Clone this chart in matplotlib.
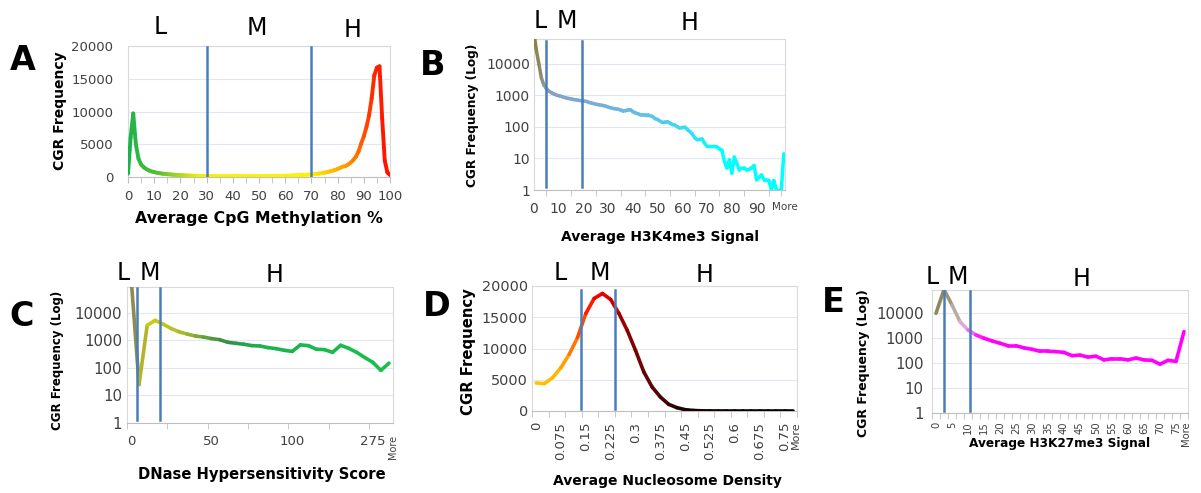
import numpy as np
import matplotlib
matplotlib.use('Agg')
import matplotlib.pyplot as plt
from matplotlib.collections import LineCollection

W, H = 1201, 493

# A: average CpG methylation %, bins 0..100
a_x = list(range(101))
a_vals = [500, 6000, 9700, 5000, 2800, 1900, 1500, 1200, 1000, 850,
          750, 650, 580, 520, 470, 430, 400, 360, 330, 300,
          280, 260, 240, 220, 205, 190, 180, 170, 160, 150,
          145, 140, 135, 130, 128, 125, 122, 120, 118, 117,
          116, 115, 115, 115, 116, 117, 118, 120, 122, 125,
          128, 130, 135, 140, 145, 150, 155, 160, 170, 180,
          190, 200, 215, 230, 250, 270, 290, 310, 340, 370,
          400, 440, 490, 540, 600, 670, 750, 840, 950, 1080,
          1230, 1400, 1600, 1650, 1900, 2200, 2600, 3100, 3900, 5100,
          6200, 7600, 9400, 12000, 15500, 16700, 16900, 9000, 2500, 700,
          300]
a_cuts = [30, 70]

# B: average H3K4me3 signal, bins 0..100 + "More"
b_x = list(range(102))
b_vals = [90000, 25000, 9500, 3500, 2100, 1600, 1350, 1200, 1100, 1020,
          960, 920, 860, 820, 790, 760, 730, 710, 690, 670,
          660, 640, 600, 570, 545, 520, 500, 485, 470, 450,
          420, 400, 380, 370, 360, 340, 315, 325, 340, 345,
          300, 275, 260, 240, 235, 240, 240, 225, 210, 180,
          170, 150, 137, 140, 145, 130, 118, 113, 100, 91,
          95, 97, 82, 71, 60, 45, 39, 40, 41, 30,
          24, 24, 24, 24, 23, 20, 18, 8, 5, 9,
          3.4, 11, 7, 4.3, 5, 5, 4.3, 4.5, 5, 6,
          2.1, 2.5, 3, 2.1, 2.1, 2, 1, 2, 1, 1,
          1, 14]
b_cuts = [4.7, 19.4]

# C: DNase hypersensitivity score, category index
c_vals = [200000, 25, 3550, 5400, 3900, 2700, 2050, 1700, 1450, 1330,
          1170, 1070, 860, 790, 730, 650, 630, 550, 505, 440,
          400, 690, 650, 480, 465, 370, 670, 520, 370, 240,
          160, 82, 150]
c_labels = ['0', '50', '100', '275', 'More']
c_label_pos = [0, 10, 20, 30, 32.5]
c_cuts = [0.8, 3.6]

# D: average nucleosome density, category index (0.025 wide bins)
d_vals = [4490, 4380, 5340, 6950, 9080, 11750, 15600, 18000, 18800, 17850,
          15600, 12900, 9700, 6250, 3850, 2240, 1070, 530, 210, 80,
          30, 10, 5, 3, 2, 1, 1, 1, 0, 0, 0, 0]
d_labels = ['0', '0.075', '0.15', '0.225', '0.3', '0.375', '0.45', '0.525',
            '0.6', '0.675', '0.75', 'More']
d_label_pos = [0, 3, 6, 9, 12, 15, 18, 21, 24, 27, 30, 31.4]
d_cuts = [5.4, 9.5]

# E: average H3K27me3 signal, category index (2.5 wide bins)
e_vals = [10000, 90000, 21500, 4600, 2150, 1350, 1000, 780, 630, 500,
          500, 410, 360, 300, 300, 290, 270, 200, 210, 175,
          190, 135, 150, 150, 135, 160, 135, 130, 91, 130,
          117, 1850]
e_labels = [str(v) for v in range(0, 80, 5)] + ['More']
e_label_pos = list(range(0, 31, 2)) + [31.3]
e_cuts = [1.0, 4.2]

log_ticks = [1, 10, 100, 1000, 10000]
lin_ticks = [0, 5000, 10000, 15000, 20000]

CUT = '#4a7ebb'
TXT = '#404040'


def box(l, t, r, b):
    return [l / W, 1 - b / H, (r - l) / W, (b - t) / H]


def ftext(x, y, s, **kw):
    fig.text(x / W, 1 - y / H, s, ha='center', va='center', **kw)


def grad_line(ax, x, y, anchors, lw=2.6):
    x = np.asarray(x, float)
    y = np.asarray(y, float)
    pts = np.column_stack([x, y])
    segs = np.stack([pts[:-1], pts[1:]], axis=1)
    mids = (x[:-1] + x[1:]) / 2
    ax_ = [p[0] for p in anchors]
    cols = np.array([p[1] for p in anchors])
    rgb = np.column_stack([np.interp(mids, ax_, cols[:, i]) for i in range(3)])
    lc = LineCollection(segs, colors=rgb, linewidths=lw,
                        capstyle='round', joinstyle='round', zorder=3)
    ax.add_collection(lc)


def style(ax, ysize, ypad, xsize, xpad):
    for s in ax.spines.values():
        s.set_color('#d9d9d9')
        s.set_linewidth(0.8)
    ax.spines['bottom'].set_color('#bfbfbf')
    ax.grid(axis='y', color='#e2e8f0', lw=0.8)
    ax.set_axisbelow(True)
    ax.tick_params(axis='y', length=0, labelsize=ysize, labelcolor=TXT, pad=ypad)
    ax.tick_params(axis='x', which='both', length=4, color='#bfbfbf',
                   labelsize=xsize, labelcolor=TXT, pad=xpad)


fig = plt.figure(figsize=(W / 100, H / 100), dpi=100)

# ---------- A ----------
ax = fig.add_axes(box(128, 46, 390, 177))
grad_line(ax, a_x, a_vals, [(0, (0.1, 0.7, 0.3)), (12, (0.35, 0.75, 0.2)),
                            (28, (0.95, 0.95, 0.0)), (70, (1, 0.95, 0.0)),
                            (84, (1, 0.6, 0.0)), (94, (1, 0.15, 0.0)),
                            (100, (1, 0.05, 0.0))], lw=2.8)
for c in a_cuts:
    ax.axvline(c, ymin=0.005, ymax=0.995, color=CUT, lw=1.8, zorder=4)
ax.set_xlim(0, 100)
ax.set_ylim(0, 20000)
ax.set_yticks(lin_ticks)
ax.set_xticks(range(0, 101, 10))
ax.set_xticks(range(0, 101, 5), minor=True)
style(ax, 9.5, 10.5, 9.5, 5)
ftext(60, 111, 'CGR Frequency', rotation=90, fontsize=10, fontweight='bold')
ftext(259, 218, 'Average CpG Methylation %', fontsize=11.3, fontweight='bold')

# ---------- B ----------
ax = fig.add_axes(box(534, 39, 785, 190))
grad_line(ax, b_x, b_vals, [(0, (0.55, 0.5, 0.25)), (3, (0.55, 0.55, 0.45)),
                            (5, (0.55, 0.62, 0.72)), (15, (0.5, 0.65, 0.82)),
                            (40, (0.4, 0.73, 0.88)), (60, (0.25, 0.85, 0.95)),
                            (75, (0.0, 1.0, 1.0)), (101, (0.0, 1.0, 1.0))], lw=2.5)
for c in b_cuts:
    ax.axvline(c, ymin=0.02, ymax=0.99, color=CUT, lw=1.8, zorder=4)
ax.set_yscale('log')
ax.set_xlim(0, 101.5)
ax.set_ylim(1, 60000)
ax.set_yticks(log_ticks, [str(v) for v in log_ticks])
ax.minorticks_off()
ax.set_xticks(list(range(0, 91, 10)) + [101.5],
              [str(v) for v in range(0, 91, 10)] + ['More'])
ax.set_xticks(range(0, 101, 5), minor=True)
style(ax, 10, 3, 10, 5.5)
ax.tick_params(axis='x', which='major', length=0, pad=8.3)
ax.get_xticklabels()[-1].set_fontsize(7.5)
ftext(472, 115, 'CGR Frequency (Log)', rotation=90, fontsize=8.7, fontweight='bold')
ftext(660, 237, 'Average H3K4me3 Signal', fontsize=10, fontweight='bold')

# ---------- C ----------
ax = fig.add_axes(box(127, 287, 393, 423))
grad_line(ax, range(len(c_vals)), c_vals,
          [(0, (0.45, 0.45, 0.35)), (1, (0.65, 0.65, 0.25)), (2.5, (0.8, 0.8, 0.05)),
           (6, (0.7, 0.75, 0.15)), (10, (0.35, 0.6, 0.25)), (12, (0.2, 0.55, 0.3)),
           (16, (0.1, 0.7, 0.3)), (32, (0.1, 0.75, 0.3))], lw=2.6)
for c in c_cuts:
    ax.axvline(c, ymin=0.02, ymax=0.99, color=CUT, lw=1.8, zorder=4)
ax.set_yscale('log')
ax.set_xlim(-0.5, 32.5)
ax.set_ylim(1, 88000)
ax.set_yticks(log_ticks, [str(v) for v in log_ticks])
ax.minorticks_off()
ax.set_xticks(c_label_pos, c_labels)
ax.set_xticks(np.arange(-0.5, 32, 5), minor=True)
style(ax, 10.8, 3.6, 9.5, 6)
ax.tick_params(axis='x', which='major', length=0, pad=8.8)
lab = ax.get_xticklabels()[-1]
lab.set_rotation(90)
lab.set_fontsize(7)
ftext(58, 360, 'CGR Frequency (Log)', rotation=90, fontsize=8.5, fontweight='bold')
ftext(262, 475, 'DNase Hypersensitivity Score', fontsize=10.6, fontweight='bold')

# ---------- D ----------
ax = fig.add_axes(box(532, 286, 797, 411))
grad_line(ax, range(len(d_vals)), d_vals,
          [(0, (1, 0.78, 0.0)), (3, (1, 0.7, 0.0)), (5, (1, 0.4, 0.0)),
           (7, (1, 0.0, 0.0)), (9, (0.85, 0.0, 0.0)), (11, (0.55, 0.0, 0.0)),
           (14, (0.35, 0.02, 0.02)), (18, (0.1, 0.0, 0.0)), (31, (0, 0, 0))], lw=2.6)
for c in d_cuts:
    ax.axvline(c, ymin=0.02, ymax=0.97, color=CUT, lw=1.8, zorder=4)
ax.set_xlim(-0.5, 31.5)
ax.set_ylim(0, 20000)
ax.set_yticks(lin_ticks)
ax.set_xticks(d_label_pos, d_labels, rotation=90)
ax.set_xticks(np.arange(-0.5, 32, 2), minor=True)
style(ax, 10.4, 3, 9.5, 5)
ax.tick_params(axis='x', which='major', length=0, pad=7.8)
ax.get_xticklabels()[-1].set_fontsize(8)
ftext(468, 352, 'CGR Frequency', rotation=90, fontsize=10.7, fontweight='bold')
ftext(667, 481, 'Average Nucleosome Density', fontsize=10, fontweight='bold')

# ---------- E ----------
ax = fig.add_axes(box(932, 290, 1188, 413))
grad_line(ax, range(len(e_vals)), e_vals,
          [(0, (0.55, 0.52, 0.33)), (1, (0.58, 0.55, 0.38)), (2, (0.66, 0.62, 0.52)),
           (3, (0.8, 0.72, 0.78)), (4, (0.95, 0.6, 0.95)), (5, (1, 0.2, 1)),
           (6, (1, 0, 1)), (31, (1, 0, 1))], lw=2.6)
for c in e_cuts:
    ax.axvline(c, ymin=0.02, ymax=0.99, color=CUT, lw=1.8, zorder=4)
ax.set_yscale('log')
ax.set_xlim(-0.5, 31.5)
ax.set_ylim(1, 86000)
ax.set_yticks(log_ticks, [str(v) for v in log_ticks])
ax.minorticks_off()
ax.set_xticks(e_label_pos, e_labels, rotation=90)
ax.set_xticks(np.arange(-0.5, 32, 1), minor=True)
style(ax, 10.8, 6, 7.2, 3.6)
ax.tick_params(axis='x', which='major', length=0, pad=6)
ftext(863, 363, 'CGR Frequency (Log)', rotation=90, fontsize=9, fontweight='bold')
ftext(1060, 443, 'Average H3K27me3 Signal', fontsize=8.7, fontweight='bold')

# panel letters
for s, x, y in [('A', 23, 61), ('B', 433, 65), ('C', 22, 317), ('D', 437, 307), ('E', 833, 303)]:
    ftext(x, y, s, fontsize=24, fontweight='bold')

# L / M / H region labels
for s, x, y in [('L', 160, 27), ('M', 257, 28), ('H', 353, 30),
                ('L', 540, 21), ('M', 567, 21), ('H', 690, 23),
                ('L', 123, 273), ('M', 150, 273), ('H', 275, 275),
                ('L', 560, 273), ('M', 600, 273), ('H', 705, 275),
                ('L', 932, 277), ('M', 958, 277), ('H', 1082, 279)]:
    ftext(x, y, s, fontsize=17)

fig.savefig('out.png', dpi=100)
